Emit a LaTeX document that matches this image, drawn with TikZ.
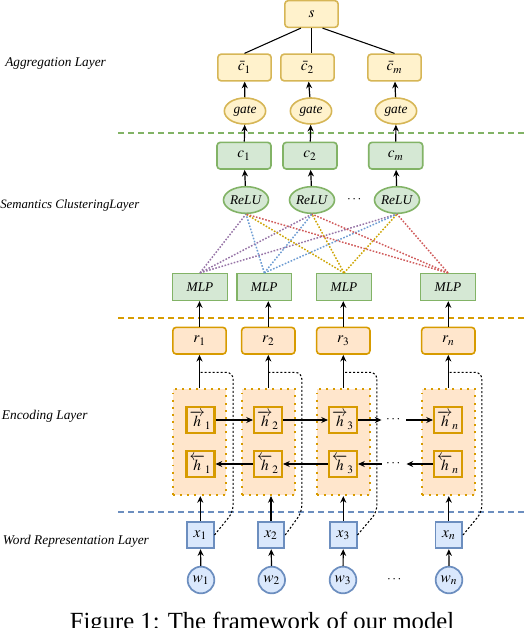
\documentclass[tikz,border=0pt]{standalone}
\usepackage{amsmath}
\usepackage{mathptmx}
\usepackage[no-math]{fontspec}
\setmainfont{Liberation Serif}
\usepackage{tikz}
\usetikzlibrary{shapes.geometric}
\usetikzlibrary{positioning,calc}
\usetikzlibrary{arrows.meta}
\definecolor{aggfill}{HTML}{FFF2CC}
\definecolor{aggdraw}{HTML}{D6B656}
\definecolor{clufill}{HTML}{D5E8D4}
\definecolor{cludraw}{HTML}{82B366}
\definecolor{encfill}{HTML}{FFE6CC}
\definecolor{encdraw}{HTML}{D79B00}
\definecolor{wordfill}{HTML}{DAE8FC}
\definecolor{worddraw}{HTML}{6C8EBF}
\definecolor{linkpurple}{HTML}{9673A6}
\definecolor{linkblue}{HTML}{6C9BD2}
\definecolor{linkgold}{HTML}{CCA300}
\definecolor{linkred}{HTML}{D05A5A}
\tikzstyle{aggbox}=[rectangle,rounded corners=2.5pt,fill=aggfill,draw=aggdraw,line width=1.2pt,minimum width=40pt,minimum height=20pt,inner sep=0pt,font=\fontsize{11.5}{13}\selectfont]
\tikzstyle{agggate}=[ellipse,fill=aggfill,draw=aggdraw,line width=1.2pt,minimum width=31pt,minimum height=19.5pt,inner sep=0pt]
\tikzstyle{clubox}=[rectangle,rounded corners=2.5pt,fill=clufill,draw=cludraw,line width=1.2pt,minimum width=40.5pt,minimum height=20pt,inner sep=0pt,font=\fontsize{11.5}{13}\selectfont]
\tikzstyle{clurelu}=[ellipse,fill=clufill,draw=cludraw,line width=1.2pt,minimum width=31.5pt,minimum height=20pt,inner sep=0pt]
\tikzstyle{mlpbox}=[rectangle,fill=clufill,draw=cludraw,line width=1.2pt,minimum width=41pt,minimum height=20pt,inner sep=0pt]
\tikzstyle{encr}=[rectangle,rounded corners=2.5pt,fill=encfill,draw=encdraw,line width=1.2pt,minimum width=40pt,minimum height=20pt,inner sep=0pt,font=\fontsize{11.5}{13}\selectfont]
\tikzstyle{encbox}=[rectangle,fill=encfill,draw=encdraw,line width=1.3pt,dash pattern=on 1.4pt off 4pt,minimum width=40pt,minimum height=79.5pt,inner sep=0pt]
\tikzstyle{hbox}=[rectangle,fill=encfill,draw=encdraw,line width=1.6pt,minimum width=21pt,minimum height=20pt,inner sep=0pt,font=\fontsize{11.5}{13}\selectfont]
\tikzstyle{wordbox}=[rectangle,fill=wordfill,draw=worddraw,line width=1.3pt,minimum width=20pt,minimum height=20pt,inner sep=0pt,font=\fontsize{11.5}{13}\selectfont]
\tikzstyle{wordcirc}=[circle,fill=wordfill,draw=worddraw,line width=1.3pt,minimum size=20pt,inner sep=0pt,font=\fontsize{11.5}{13}\selectfont]
\tikzset{flow/.style={-{Stealth[length=5pt,width=4.5pt]},line width=0.9pt},
  skipline/.style={dash pattern=on 1.5pt off 1.5pt,line width=0.8pt,rounded corners=5pt},
  links/.style={dash pattern=on 1.2pt off 1.2pt,line width=1.1pt},
  layerline/.style={dash pattern=on 4.5pt off 3pt,line width=1.3pt},
  layerlabel/.style={anchor=west,inner sep=0pt,font=\itshape}
}

\begin{document}
\begin{tikzpicture}[x=0.75pt,y=-0.75pt]
    \useasboundingbox (0,0) rectangle (526,628);

    \node [layerlabel] (LabAgg) at (5,63.3) {Aggregation Layer};
    \node [layerlabel,font=\itshape\fontsize{9.6}{11}\selectfont] (LabClu) at (0,205) {Semantics ClusteringLayer};
    \node [layerlabel] (LabEnc) at (1.7,416) {Encoding Layer};
    \node [layerlabel] (LabWord) at (2.7,541) {Word Representation Layer};

    \draw [layerline,draw=cludraw] (118,132.7) -- (526,132.7);
    \draw [layerline,draw=encdraw] (118,318.3) -- (526,318.3);
    \draw [layerline,draw=worddraw] (118,512.3) -- (526,512.3);

    \node [aggbox] (S) at (311.5,14) {$s$};
    \node [aggbox] (Cbar1) at (244.5,67.5) {$\bar{c}_1$};
    \node [aggbox] (Cbar2) at (307.5,67.5) {$\bar{c}_2$};
    \node [aggbox] (Cbarm) at (394.5,67.5) {$\bar{c}_m$};
    \node [agggate] (Gate1) at (245,111) {\textit{gate}};
    \node [agggate] (Gate2) at (311,111) {\textit{gate}};
    \node [agggate] (Gatem) at (396,111) {\textit{gate}};

    \draw [line width=0.8pt] (S.-127) -- (Cbar1.north);
    \draw [line width=0.8pt] (S.south) -- (S.south |- Cbar2.north);
    \draw [line width=0.8pt] (S.-52) -- (Cbarm.north);
    \draw [flow] (Gate1) -- (Cbar1);
    \draw [flow] (Gate2) -- (Cbar2);
    \draw [flow] (Gatem) -- (Cbarm);

    \node [clubox] (C1) at (244,155.7) {$c_1$};
    \node [clubox] (C2) at (310,155.7) {$c_2$};
    \node [clubox] (Cm) at (395.7,155.7) {$c_m$};
    \node [clurelu] (Relu1) at (246,200) {\textit{ReLU}};
    \node [clurelu] (Relu2) at (312,200) {\textit{ReLU}};
    \node [clurelu] (Relum) at (397,200) {\textit{ReLU}};
    \node (DotsRelu) at (355,200) {$\cdots$};
    \node [mlpbox] (Mlp1) at (200,287) {\textit{MLP}};
    \node [mlpbox] (Mlp2) at (264.3,287) {\textit{MLP}};
    \node [mlpbox] (Mlp3) at (344,287) {\textit{MLP}};
    \node [mlpbox] (Mlp4) at (448,287) {\textit{MLP}};

    \draw [flow] (C1) -- (Gate1);
    \draw [flow] (C2) -- (Gate2);
    \draw [flow] (Cm) -- (Gatem);
    \draw [flow] (Relu1) -- (C1);
    \draw [flow] (Relu2) -- (C2);
    \draw [flow] (Relum) -- (Cm);

    \draw [links,linkpurple] (Mlp1.north) -- (Relu1.south);
    \draw [links,linkpurple] (Mlp1.north) -- (Relu2.south);
    \draw [links,linkpurple] (Mlp1.north) -- (Relum.south);
    \draw [links,linkblue] (Mlp2.north) -- (Relu1.south);
    \draw [links,linkblue] (Mlp2.north) -- (Relu2.south);
    \draw [links,linkblue] (Mlp2.north) -- (Relum.south);
    \draw [links,linkgold] (Mlp3.north) -- (Relu1.south);
    \draw [links,linkgold] (Mlp3.north) -- (Relu2.south);
    \draw [links,linkgold] (Mlp3.north) -- (Relum.south);
    \draw [links,linkred] (Mlp4.north) -- (Relu1.south);
    \draw [links,linkred] (Mlp4.north) -- (Relu2.south);
    \draw [links,linkred] (Mlp4.north) -- (Relum.south);

    \node [encr] (R1) at (199.5,340.7) {$r_1$};
    \node [encr] (R2) at (268.3,340.7) {$r_2$};
    \node [encr] (R3) at (343.3,340.7) {$r_3$};
    \node [encr] (Rn) at (448.3,340.7) {$r_n$};
    \node [encbox] (Enc1) at (199.5,442.2) {};
    \node [encbox] (Enc2) at (268.3,442.2) {};
    \node [encbox] (Enc3) at (343.3,442.2) {};
    \node [encbox] (Encn) at (448.3,442.2) {};
    \node [hbox] (Hf1) at (200.5,420) {$\overrightarrow{h}_1$};
    \node [hbox] (Hf2) at (268,420) {$\overrightarrow{h}_2$};
    \node [hbox] (Hf3) at (343,420) {$\overrightarrow{h}_3$};
    \node [hbox] (Hfn) at (448,420) {$\overrightarrow{h}_n$};
    \node [hbox] (Hb1) at (200.5,464) {$\overleftarrow{h}_1$};
    \node [hbox] (Hb2) at (268,464) {$\overleftarrow{h}_2$};
    \node [hbox] (Hb3) at (343,464) {$\overleftarrow{h}_3$};
    \node [hbox] (Hbn) at (448,464) {$\overleftarrow{h}_n$};
    \node [minimum width=18pt] (DotsF) at (394,420) {$\cdots$};
    \node [minimum width=18pt] (DotsB) at (394,464) {$\cdots$};

    \draw [flow] (R1.north) -- (R1.north |- Mlp1.south);
    \draw [flow] (R2.north) -- (R2.north |- Mlp2.south);
    \draw [flow] (R3.north) -- (R3.north |- Mlp3.south);
    \draw [flow] (Rn.north) -- (Rn.north |- Mlp4.south);
    \draw [flow] (Enc1.north) -- (R1);
    \draw [flow] (Enc2.north) -- (R2);
    \draw [flow] (Enc3.north) -- (R3);
    \draw [flow] (Encn.north) -- (Rn);

    \draw [flow] (Hf1) -- (Hf2);
    \draw [flow] (Hf2) -- (Hf3);
    \draw [flow] (Hf3) -- (DotsF);
    \draw [flow] (DotsF) -- (Hfn);
    \draw [flow] (Hbn) -- (DotsB);
    \draw [flow] (DotsB) -- (Hb3);
    \draw [flow] (Hb3) -- (Hb2);
    \draw [flow] (Hb2) -- (Hb1);

    \node [wordbox] (X1) at (200.3,535) {$x_1$};
    \node [wordbox] (X2) at (271,535) {$x_2$};
    \node [wordbox] (X3) at (343.3,535) {$x_3$};
    \node [wordbox] (Xn) at (448.8,535) {$x_n$};
    \node [wordcirc] (W1) at (201,580) {$w_1$};
    \node [wordcirc] (W2) at (271.7,580) {$w_2$};
    \node [wordcirc] (W3) at (343,580) {$w_3$};
    \node [wordcirc] (Wn) at (449,580) {$w_n$};
    \node (DotsW) at (395,580) {$\cdots$};

    \draw [flow] (W1) -- (X1);
    \draw [flow] (W2) -- (X2);
    \draw [flow] (W3) -- (X3);
    \draw [flow] (Wn) -- (Xn);
    \draw [flow] (X1.north) -- (X1.north |- Enc1.south);
    \draw [flow] (X2.north) -- (X2.north |- Enc2.south);
    \draw [flow] (X3.north) -- (X3.north |- Enc3.south);
    \draw [flow] (Xn.north) -- (Xn.north |- Encn.south);

    \draw [skipline] (X1.east) -- ($(Enc1.south east)+(6,16)$) -- ($(Enc1.north east)+(6,-16)$) -- ($(Enc1.north)+(0,-16)$);
    \draw [skipline] (X2.east) -- ($(Enc2.south east)+(6,16)$) -- ($(Enc2.north east)+(6,-16)$) -- ($(Enc2.north)+(0,-16)$);
    \draw [skipline] (X3.east) -- ($(Enc3.south east)+(6,16)$) -- ($(Enc3.north east)+(6,-16)$) -- ($(Enc3.north)+(0,-16)$);
    \draw [skipline] (Xn.east) -- ($(Encn.south east)+(6,16)$) -- ($(Encn.north east)+(6,-16)$) -- ($(Encn.north)+(0,-16)$);

    \node [anchor=base,font=\fontsize{18.5}{22}\selectfont] (Caption) at (262,629.6) {Figure 1: The framework of our model};
\end{tikzpicture}
\end{document}
